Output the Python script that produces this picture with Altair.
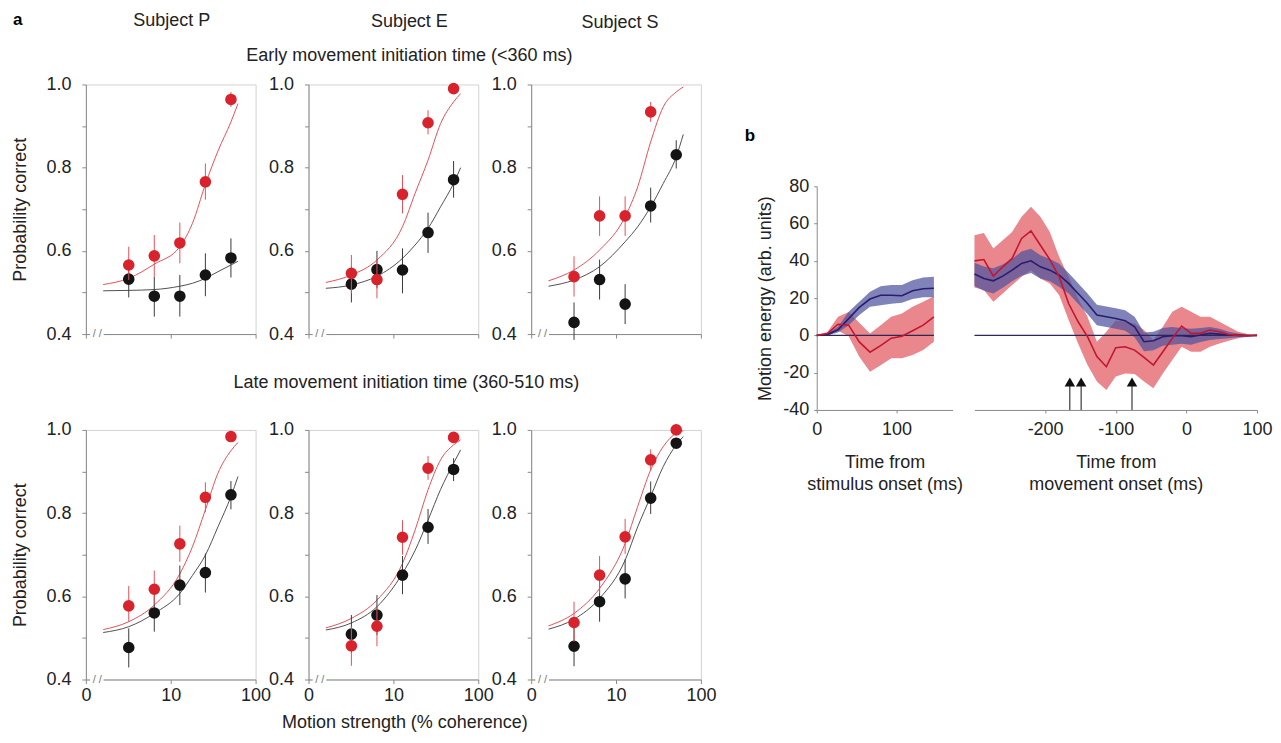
import altair as alt
import pandas as pd

FONT = "Liberation Sans"
TXT = "#222222"
AXC = "#8a8a8a"
FRAME = "#d2d2d2"
RED_PT = "#d8232d"
RED_LN = "#e4505a"
BLK_PT = "#141414"
BLK_LN = "#505050"
PINK = "#e9878d"
BLUE_BAND = "#4e53a0"
RED_TRACE = "#c4162f"
BLUE_TRACE = "#2a1d6c"
ZERO = "#2b2757"

# ---------------- panel a data ----------------
coherence = [3.2, 6.4, 12.8, 25.6, 51.2]
fit_coherence = [1.6, 3.2, 6.4, 12.8, 18.0, 25.6, 36.0, 51.2, 62.0]
y_ticks = [0.4, 0.5, 0.6, 0.7, 0.8, 0.9, 1.0]
x_ticks = [1, 10, 100]
break_span = [1.12, 1.62]
break_mark_x = [1.36]

# Subject P, early
pe_red = [0.566, 0.588, 0.619, 0.766, 0.964]
pe_red_lo = [0.530, 0.538, 0.570, 0.723, 0.946]
pe_red_hi = [0.610, 0.638, 0.668, 0.810, 0.982]
pe_blk = [0.532, 0.491, 0.491, 0.542, 0.583]
pe_blk_lo = [0.488, 0.442, 0.442, 0.491, 0.536]
pe_blk_hi = [0.578, 0.538, 0.542, 0.594, 0.630]
pe_red_fit = [0.519, 0.534, 0.568, 0.610, 0.666, 0.760, 0.840, 0.910, 0.954]
pe_blk_fit = [0.504, 0.505, 0.507, 0.515, 0.522, 0.534, 0.550, 0.566, 0.575]

# Subject E, early
ee_red = [0.546, 0.531, 0.736, 0.908, 0.990]
ee_red_lo = [0.498, 0.486, 0.690, 0.880, 0.990]
ee_red_hi = [0.590, 0.578, 0.782, 0.938, 0.990]
ee_blk = [0.520, 0.555, 0.554, 0.644, 0.771]
ee_blk_lo = [0.476, 0.510, 0.498, 0.595, 0.728]
ee_blk_hi = [0.562, 0.600, 0.606, 0.692, 0.816]
ee_red_fit = [0.524, 0.542, 0.578, 0.658, 0.738, 0.818, 0.906, 0.958, 0.978]
ee_blk_fit = [0.510, 0.518, 0.539, 0.582, 0.614, 0.654, 0.706, 0.762, 0.800]

# Subject S, early (no red point at the highest coherence)
se_red_coh = [3.2, 6.4, 12.8, 25.6]
se_red = [0.538, 0.684, 0.684, 0.934]
se_red_lo = [0.490, 0.636, 0.636, 0.910]
se_red_hi = [0.587, 0.731, 0.731, 0.958]
se_blk = [0.428, 0.531, 0.472, 0.708, 0.831]
se_blk_lo = [0.386, 0.483, 0.424, 0.668, 0.798]
se_blk_hi = [0.476, 0.579, 0.520, 0.752, 0.866]
se_red_fit = [0.528, 0.554, 0.602, 0.682, 0.754, 0.862, 0.946, 0.982, 0.994]
se_blk_fit = [0.515, 0.530, 0.562, 0.622, 0.658, 0.706, 0.762, 0.826, 0.880]

# Subject P, late
pl_red = [0.577, 0.617, 0.726, 0.838, 0.984]
pl_red_lo = [0.539, 0.581, 0.683, 0.803, 0.984]
pl_red_hi = [0.625, 0.662, 0.770, 0.874, 0.984]
pl_blk = [0.477, 0.560, 0.627, 0.657, 0.844]
pl_blk_lo = [0.429, 0.515, 0.579, 0.609, 0.809]
pl_blk_hi = [0.523, 0.603, 0.674, 0.703, 0.877]
pl_red_fit = [0.520, 0.539, 0.579, 0.654, 0.719, 0.808, 0.896, 0.950, 0.970]
pl_blk_fit = [0.513, 0.527, 0.559, 0.607, 0.650, 0.699, 0.767, 0.840, 0.888]

# Subject E, late
el_red = [0.481, 0.528, 0.742, 0.908, 0.982]
el_red_lo = [0.433, 0.480, 0.700, 0.880, 0.982]
el_red_hi = [0.528, 0.575, 0.783, 0.937, 0.982]
el_blk = [0.509, 0.555, 0.651, 0.766, 0.905]
el_blk_lo = [0.464, 0.507, 0.605, 0.726, 0.877]
el_blk_hi = [0.555, 0.603, 0.697, 0.810, 0.932]
el_red_fit = [0.524, 0.547, 0.591, 0.679, 0.759, 0.856, 0.928, 0.964, 0.976]
el_blk_fit = [0.519, 0.536, 0.575, 0.655, 0.710, 0.783, 0.857, 0.920, 0.952]

# Subject S, late
sl_red = [0.537, 0.651, 0.743, 0.928, 1.000]
sl_red_lo = [0.491, 0.607, 0.702, 0.902, 1.000]
sl_red_hi = [0.587, 0.697, 0.786, 0.953, 1.000]
sl_blk = [0.480, 0.587, 0.642, 0.836, 0.968]
sl_blk_lo = [0.432, 0.539, 0.595, 0.798, 0.968]
sl_blk_hi = [0.527, 0.639, 0.689, 0.876, 0.968]
sl_red_fit = [0.529, 0.559, 0.619, 0.727, 0.816, 0.904, 0.960, 0.992, 0.998]
sl_blk_fit = [0.521, 0.545, 0.595, 0.687, 0.767, 0.840, 0.912, 0.964, 0.984]

# ---------------- panel b data ----------------
t_stim = [0, 13.3, 26.7, 40, 53.3, 66.7, 80, 93.3, 106.7, 120, 133.3, 146.7]
stim_blue = [0, 0.5, 3, 9, 15, 19.5, 21.5, 21.5, 21.3, 24, 25, 25.3]
stim_blue_hi = [0, 1, 4.6, 12.7, 18, 23.4, 26.4, 27, 27, 29.6, 31, 31.4]
stim_blue_lo = [0, 0, 1.6, 5.5, 11, 15.4, 16.2, 17, 17.5, 19.5, 20.5, 20.5]
stim_red = [0, 1, 6, 5.5, -3.5, -9, -5.5, -1.5, -0.5, 2.5, 5.5, 10]
stim_red_hi = [0, 1.8, 10, 12.5, 6.8, 1, 5.5, 10, 11.8, 15.4, 18, 21]
stim_red_lo = [0, -0.3, 2.5, -0.5, -11.4, -19.5, -16, -12.3, -12.3, -10.5, -7.9, -3.4]

t_move = [-300, -286.7, -273.3, -260, -246.7, -233.3, -220, -206.7, -193.3, -180,
          -166.7, -153.3, -140, -126.7, -113.3, -100, -86.7, -73.3, -60, -46.7,
          -33.3, -20, -6.7, 6.7, 20, 33.3, 46.7, 60, 73.3, 86.7, 100]
move_red = [40, 40.7, 31.8, 36.8, 41.3, 52, 56.1, 48.4, 40.7, 31.4,
            17.1, 7.3, -0.7, -11.4, -16.8, -6.6, -6.1, -7.9, -11.8, -15.9,
            -8.75, -1.6, 5, 1.1, 1.1, 2.9, 2, 0.5, 0, -0.2, 0]
move_red_hi = [53.75, 55, 46.6, 51, 55.5, 63.6, 69, 63.6, 55.5, 42,
               31.4, 19.8, 10, -3.4, 2, 8, 7.3, 6.4, 2.9, -2.5,
               4.6, 12.7, 15.4, 12.7, 10, 10, 7.3, 4.6, 2, 0.7, 0]
move_red_lo = [25.7, 24.3, 18, 22.5, 27, 31.4, 35, 30.5, 27.9, 21.6,
               8.2, -4.3, -15.9, -24.8, -29.3, -22, -20.4, -20.7, -24.8, -28.4,
               -20.4, -13.2, -6.1, -8.75, -8.75, -6.1, -4.3, -2.9, -1.6, -0.7, 0]
move_blue = [32.9, 30.5, 29.3, 31.8, 35, 38.6, 40, 36.8, 35, 32.3,
             27.9, 22.5, 17.1, 10.9, 10, 9.1, 7.9, 4.6, -3.4, -2.9,
             -0.7, -0.2, -0.2, -0.7, 0.2, 1.1, 0.7, 0.2, 0, -0.2, 0]
move_blue_hi = [39, 37, 36, 38, 41, 45, 46.5, 43, 41, 38.5,
                33.5, 28, 22.5, 16.5, 15.5, 14.5, 13.5, 10, 1.5, 2,
                4, 4.5, 4, 3.5, 4, 4.5, 3.5, 2, 1, 0.3, 0]
move_blue_lo = [26.5, 24, 22.5, 25.5, 29, 32, 33.5, 30.5, 29, 26,
                22.5, 17, 11.5, 5.5, 4.5, 3.5, 2.5, -1, -8.5, -8,
                -5.5, -5, -4.5, -5, -3.5, -2.5, -2, -1.5, -1, -0.5, 0]

zero_stim = [0, 146.7]
zero_move = [-300, 100]
arrow_times = [-165, -149, -77]
arrow_span = [-40, -25]

Y_LABEL_EXPR = ("(datum.value == 0.4 || datum.value == 0.6 || datum.value == 0.8 || "
                "datum.value == 1) ? format(datum.value, '.1f') : ''")


def psych_panel(red, red_lo, red_hi, blk, blk_lo, blk_hi, red_fit, blk_fit,
                first_col, bottom_row, title=None, x_title=None, red_coh=None,
                header=False):
    if red_coh is None:
        red_coh = coherence
    xs = alt.Scale(type="log", domain=[1, 100])
    ys = alt.Scale(domain=[0.4, 1.0], nice=False, zero=False)
    xkw = dict(values=x_ticks, labels=bottom_row, tickSize=4, tickColor=AXC,
               domainColor=AXC, labelPadding=3, labelFlush=False, grid=False)
    if bottom_row:
        xkw["labelExpr"] = "datum.value < 2 ? '0' : format(datum.value, 'd')"
    if x_title:
        xkw.update(title=x_title, titleX=96, titlePadding=9)
    else:
        xkw["title"] = None
    xaxis = alt.Axis(**xkw)
    ykw = dict(values=y_ticks, labelExpr=Y_LABEL_EXPR, tickSize=4, tickColor=AXC,
               domainColor=AXC, labelPadding=11, grid=False)
    if first_col:
        ykw.update(title="Probability correct", titlePadding=16)
    else:
        ykw["title"] = None
    yaxis = alt.Axis(**ykw)

    X = alt.X("x:Q", scale=xs, axis=xaxis)

    def Y(f):
        return alt.Y(f, scale=ys, axis=yaxis)

    bfit = pd.DataFrame({"x": fit_coherence, "y": blk_fit})
    rfit = pd.DataFrame({"x": fit_coherence, "y": red_fit})
    bpts = pd.DataFrame({"x": coherence, "y": blk, "lo": blk_lo, "hi": blk_hi})
    rpts = pd.DataFrame({"x": red_coh, "y": red, "lo": red_lo, "hi": red_hi})
    mask = pd.DataFrame({"x": [break_span[0]], "x2": [break_span[1]], "y": [0.4]})
    slash = pd.DataFrame({"x": break_mark_x, "y": [0.4]})

    layers = [
        alt.Chart(bfit).mark_line(color=BLK_LN, strokeWidth=1, interpolate="monotone").encode(x=X, y=Y("y:Q")),
        alt.Chart(rfit).mark_line(color=RED_LN, strokeWidth=1, interpolate="monotone").encode(x=X, y=Y("y:Q")),
        alt.Chart(mask).mark_rule(color="white", strokeWidth=5).encode(x=X, x2="x2:Q", y=Y("y:Q")),
        alt.Chart(slash).mark_text(text="/ /", fontSize=11, color="#777777", font=FONT).encode(x=X, y=Y("y:Q")),
        alt.Chart(bpts).mark_rule(color="#3a3a3a", strokeWidth=1).encode(x=X, y=Y("lo:Q"), y2="hi:Q"),
        alt.Chart(bpts).mark_circle(color=BLK_PT, size=135, opacity=1).encode(x=X, y=Y("y:Q")),
        alt.Chart(rpts).mark_rule(color=RED_LN, strokeWidth=1).encode(x=X, y=Y("lo:Q"), y2="hi:Q"),
        alt.Chart(rpts).mark_circle(color=RED_PT, size=135, opacity=1).encode(x=X, y=Y("y:Q")),
    ]
    if header:
        one = pd.DataFrame({"v": [0]})
        layers.append(
            alt.Chart(one).mark_text(
                text="a", fontSize=17, fontWeight="bold", align="left",
                baseline="middle", color="#000000", font=FONT
            ).encode(x=alt.value(-73), y=alt.value(-65))
        )
        layers.append(
            alt.Chart(one).mark_text(
                text="Subject P", fontSize=18, align="center",
                baseline="middle", color=TXT, font=FONT
            ).encode(x=alt.value(86), y=alt.value(-64))
        )
    props = dict(width=170, height=250, view=alt.ViewBackground(stroke=FRAME))
    if title is not None:
        props["title"] = title
    return alt.layer(*layers).properties(**props)


def energy_panel(t, red, red_lo, red_hi, blue, blue_lo, blue_hi, xs, xaxis, yaxis,
                 zero_span, width, arrows=False, title=None):
    ys = alt.Scale(domain=[-40, 80], nice=False, zero=False)
    df = pd.DataFrame({"t": t, "red": red, "red_lo": red_lo, "red_hi": red_hi,
                       "blue": blue, "blue_lo": blue_lo, "blue_hi": blue_hi})
    X = alt.X("t:Q", scale=xs, axis=xaxis)

    def Y(f):
        return alt.Y(f, scale=ys, axis=yaxis)

    zero = pd.DataFrame({"t": [zero_span[0]], "t2": [zero_span[1]], "y": [0]})
    layers = [
        alt.Chart(df).mark_area(color=PINK, opacity=1).encode(x=X, y=Y("red_lo:Q"), y2="red_hi:Q"),
        alt.Chart(df).mark_area(color=BLUE_BAND, opacity=0.72).encode(x=X, y=Y("blue_lo:Q"), y2="blue_hi:Q"),
        alt.Chart(zero).mark_rule(color=ZERO, strokeWidth=1.2).encode(x=X, x2="t2:Q", y=Y("y:Q")),
        alt.Chart(df).mark_line(color=BLUE_TRACE, strokeWidth=1.6).encode(x=X, y=Y("blue:Q")),
        alt.Chart(df).mark_line(color=RED_TRACE, strokeWidth=1.6).encode(x=X, y=Y("red:Q")),
    ]
    if arrows:
        arr = pd.DataFrame({"t": arrow_times,
                            "y0": [arrow_span[0]] * len(arrow_times),
                            "y1": [arrow_span[1]] * len(arrow_times)})
        layers.append(alt.Chart(arr).mark_rule(color="#111111", strokeWidth=1).encode(
            x=X, y=Y("y0:Q"), y2="y1:Q"))
        layers.append(alt.Chart(arr).mark_point(shape="triangle-up", filled=True, size=110,
                                                color="#111111", opacity=1).encode(x=X, y=Y("y1:Q")))
    props = dict(width=width, height=224)
    if title is not None:
        props["title"] = title
    return alt.layer(*layers).properties(**props)


p1 = psych_panel(pe_red, pe_red_lo, pe_red_hi, pe_blk, pe_blk_lo, pe_blk_hi, pe_red_fit, pe_blk_fit,
                 True, False, header=True)
p2 = psych_panel(ee_red, ee_red_lo, ee_red_hi, ee_blk, ee_blk_lo, ee_blk_hi, ee_red_fit, ee_blk_fit,
                 False, False,
                 title=alt.TitleParams("Subject E", subtitle="Early movement initiation time (<360 ms)",
                                       offset=10, dx=16, frame="group", fontSize=18, fontWeight="normal",
                                       subtitleFontSize=18, subtitleColor=TXT, subtitlePadding=17,
                                       subtitleFont=FONT))
p3 = psych_panel(se_red, se_red_lo, se_red_hi, se_blk, se_blk_lo, se_blk_hi, se_red_fit, se_blk_fit,
                 False, False, red_coh=se_red_coh,
                 title=alt.TitleParams("Subject S", offset=44, dx=4, frame="group",
                                       fontSize=18, fontWeight="normal"))
p4 = psych_panel(pl_red, pl_red_lo, pl_red_hi, pl_blk, pl_blk_lo, pl_blk_hi, pl_red_fit, pl_blk_fit,
                 True, True)
p5 = psych_panel(el_red, el_red_lo, el_red_hi, el_blk, el_blk_lo, el_blk_hi, el_red_fit, el_blk_fit,
                 False, True, x_title="Motion strength (% coherence)",
                 title=alt.TitleParams("Late movement initiation time (360-510 ms)", offset=29, dx=13,
                                       frame="group", fontSize=18, fontWeight="normal"))
p6 = psych_panel(sl_red, sl_red_lo, sl_red_hi, sl_blk, sl_blk_lo, sl_blk_hi, sl_red_fit, sl_blk_fit,
                 False, True)

b1 = energy_panel(
    t_stim, stim_red, stim_red_lo, stim_red_hi, stim_blue, stim_blue_lo, stim_blue_hi,
    alt.Scale(domain=[0, 170], nice=False, zero=False),
    alt.Axis(values=[0, 100], title=["Time from", "stimulus onset (ms)"], titleLineHeight=22,
             titlePadding=15, labelPadding=8, tickSize=3, labelExpr="'' + datum.value",
             labelFlush=False, domainColor=AXC, tickColor=AXC, grid=False),
    alt.Axis(values=[-40, -20, 0, 20, 40, 60, 80], title="Motion energy (arb. units)",
             titlePadding=8, labelPadding=5, tickSize=3, labelExpr="'' + datum.value",
             domainColor=AXC, tickColor=AXC, grid=False),
    zero_stim, 136,
    title=alt.TitleParams("b", anchor="start", frame="bounds", dx=-12, offset=32,
                          fontSize=17, fontWeight="bold", color="#000000"))
b2 = energy_panel(
    t_move, move_red, move_red_lo, move_red_hi, move_blue, move_blue_lo, move_blue_hi,
    alt.Scale(domain=[-300, 100], nice=False, zero=False),
    alt.Axis(values=[-200, -100, 0, 100], title=["Time from", "movement onset (ms)"], titleLineHeight=22,
             titlePadding=15, labelPadding=8, tickSize=3, labelExpr="'' + datum.value",
             labelFlush=False, domainColor=AXC, tickColor=AXC, grid=False),
    None, zero_move, 283, arrows=True)

row1 = alt.hconcat(p1, p2, p3, spacing=53, bounds="flush")
row2 = alt.hconcat(p4, p5, p6, spacing=53, bounds="flush")
part_a = alt.vconcat(row1, row2, spacing=29)

spacer = alt.Chart(pd.DataFrame({"v": [0]})).mark_point(opacity=0).properties(width=10, height=24)
brow = alt.hconcat(b1, b2, spacing=22, bounds="flush")
part_b = alt.vconcat(spacer, brow, spacing=19)

chart = alt.hconcat(part_a, part_b, spacing=27).properties(
    padding={"left": 3, "top": 1, "right": 0, "bottom": 5}
).configure(font=FONT).configure_view(stroke=None).configure_axis(
    labelFont=FONT, titleFont=FONT, labelFontSize=18, titleFontSize=18,
    titleFontWeight="normal", labelColor=TXT, titleColor=TXT, grid=False
).configure_title(
    font=FONT, fontSize=18, fontWeight="normal", color=TXT,
    subtitleFont=FONT, subtitleFontSize=18, subtitleColor=TXT
)

chart.save("out.html", embed_options={"renderer": "svg", "actions": False})
